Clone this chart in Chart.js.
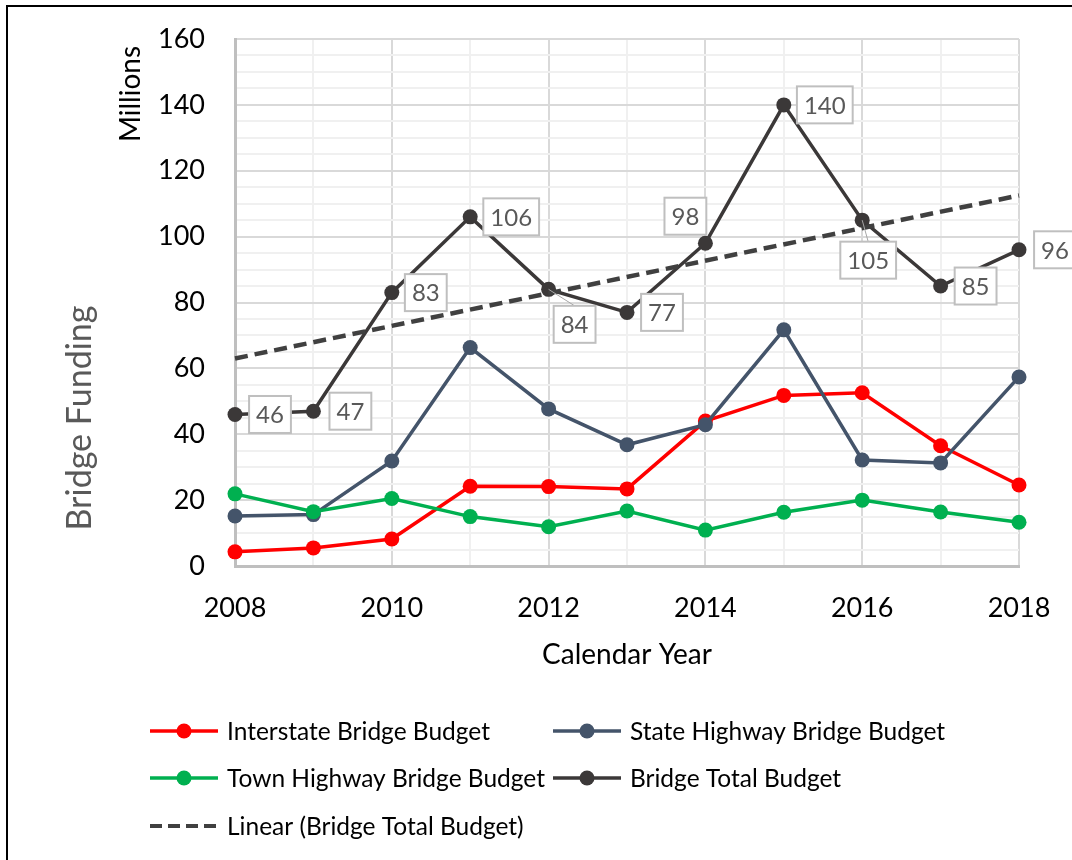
<!DOCTYPE html>
<html>
<head>
<meta charset="utf-8">
<title>Bridge Funding</title>
<script src="https://cdn.jsdelivr.net/npm/chart.js@4.4.1/dist/chart.umd.min.js"></script>
<style>
    html, body { margin: 0; padding: 0; background: #fff; }
    #wrap { width: 1072px; height: 860px; position: relative; }
</style>
</head>
<body>
<div id="wrap"><canvas id="bridgeChart"></canvas></div>
<script>
// values (millions)
const years = [2008, 2009, 2010, 2011, 2012, 2013, 2014, 2015, 2016, 2017, 2018];
const interstateBudget = [4.3, 5.5, 8.2, 24.2, 24.1, 23.4, 44.0, 51.8, 52.6, 36.5, 24.6];
const stateHighwayBudget = [15.2, 15.6, 31.9, 66.3, 47.7, 36.8, 42.9, 71.7, 32.2, 31.3, 57.4];
const townHighwayBudget = [21.9, 16.5, 20.5, 15.0, 11.9, 16.7, 10.9, 16.3, 20.0, 16.4, 13.3];
const totalBudget = [46, 47, 83, 106, 84, 77, 98, 140, 105, 85, 96];
const trendYears = [2008, 2018];
const trendValues = [63, 112.5];
const yTickLabels = [0, 20, 40, 60, 80, 100, 120, 140, 160];
const xTickLabels = [2008, 2010, 2012, 2014, 2016, 2018];

const FONT = 'Lato, "Open Sans", sans-serif';

// where each total label box sits relative to its point (dx, dy, leader line)
const labelPlacement = [
    [35, 0], [37, 0], [34, 0], [41, 0], [26, 35, true], [35, 0],
    [-20, -27], [41, 0], [6, 40, true], [35, 0], [36, 0]
];

const toPoints = (xs, ys) => xs.map((x, i) => ({ x: x, y: ys[i] }));

const totalLabels = {
    id: 'totalLabels',
    afterDatasetsDraw(chart) {
        const ctx = chart.ctx;
        const meta = chart.getDatasetMeta(3);
        ctx.save();
        ctx.font = '24px ' + FONT;
        ctx.textAlign = 'center';
        ctx.textBaseline = 'middle';
        meta.data.forEach((pt, i) => {
            const p = labelPlacement[i];
            const text = String(Math.round(totalBudget[i]));
            const w = ctx.measureText(text).width + 14;
            const h = 37;
            const cx = pt.x + p[0];
            const cy = pt.y + p[1];
            if (p[2]) {
                ctx.strokeStyle = '#a6a6a6';
                ctx.lineWidth = 1;
                ctx.beginPath();
                ctx.moveTo(pt.x, pt.y);
                ctx.lineTo(cx, cy - h / 2);
                ctx.stroke();
            }
            ctx.fillStyle = '#fff';
            ctx.fillRect(cx - w / 2, cy - h / 2, w, h);
            ctx.strokeStyle = '#bfbfbf';
            ctx.lineWidth = 2;
            ctx.strokeRect(cx - w / 2, cy - h / 2, w, h);
            ctx.fillStyle = '#595959';
            ctx.fillText(text, cx, cy + 1);
        });
        ctx.restore();
    }
};

function legendItem(ctx, x, y, color, text, dashed) {
    ctx.save();
    ctx.strokeStyle = color;
    ctx.lineWidth = dashed ? 4 : 3.5;
    if (dashed) ctx.setLineDash([12, 6]);
    ctx.beginPath();
    ctx.moveTo(x, y);
    ctx.lineTo(x + 68, y);
    ctx.stroke();
    ctx.setLineDash([]);
    if (!dashed) {
        ctx.fillStyle = color;
        ctx.beginPath();
        ctx.arc(x + 34, y, 7.5, 0, Math.PI * 2);
        ctx.fill();
    }
    ctx.fillStyle = '#000';
    ctx.font = '24.5px ' + FONT;
    ctx.textAlign = 'left';
    ctx.textBaseline = 'middle';
    ctx.fillText(text, x + 77, y + 1);
    ctx.restore();
}

const decorations = {
    id: 'decorations',
    afterDraw(chart) {
        const ctx = chart.ctx;
        ctx.save();
        // outer frame
        ctx.fillStyle = '#000';
        ctx.fillRect(6, 5, 2, 860);
        ctx.fillRect(6, 5, 1072, 2);

        ctx.textAlign = 'center';
        ctx.textBaseline = 'middle';

        ctx.save();
        ctx.translate(131, 94);
        ctx.rotate(-Math.PI / 2);
        ctx.font = '28px ' + FONT;
        ctx.fillStyle = '#000';
        ctx.fillText('Millions', 0, 0);
        ctx.restore();

        ctx.save();
        ctx.translate(80, 418);
        ctx.rotate(-Math.PI / 2);
        ctx.font = '34px ' + FONT;
        ctx.fillStyle = '#595959';
        ctx.fillText('Bridge Funding', 0, 0);
        ctx.restore();

        ctx.font = '28px ' + FONT;
        ctx.fillStyle = '#000';
        ctx.fillText('Calendar Year', 627, 655);
        ctx.restore();

        legendItem(ctx, 150, 731, '#ff0000', 'Interstate Bridge Budget');
        legendItem(ctx, 553, 731, '#44546a', 'State Highway Bridge Budget');
        legendItem(ctx, 150, 778, '#00b050', 'Town Highway Bridge Budget');
        legendItem(ctx, 553, 778, '#3b3838', 'Bridge Total Budget');
        legendItem(ctx, 150, 826, '#404040', 'Linear (Bridge Total Budget)', true);
    }
};

function series(label, values, color, order) {
    return {
        label: label,
        data: toPoints(years, values),
        borderColor: color,
        backgroundColor: color,
        borderWidth: 3.5,
        pointRadius: 7.5,
        pointBorderWidth: 0,
        pointHoverRadius: 7.5,
        clip: false,
        order: order
    };
}

// keep tick padding from pushing the plot area around
function noOverflow(s) {
    s.paddingTop = 0;
    s.paddingBottom = 0;
    s.paddingLeft = 0;
    s.paddingRight = 0;
}

const ctx = document.getElementById('bridgeChart').getContext('2d');
new Chart(ctx, {
    type: 'line',
    data: {
        datasets: [
            series('Interstate Bridge Budget', interstateBudget, '#ff0000', 4),
            series('State Highway Bridge Budget', stateHighwayBudget, '#44546a', 3),
            series('Town Highway Bridge Budget', townHighwayBudget, '#00b050', 2),
            series('Bridge Total Budget', totalBudget, '#3b3838', 1),
            {
                label: 'Linear (Bridge Total Budget)',
                data: toPoints(trendYears, trendValues),
                borderColor: '#404040',
                borderWidth: 4.5,
                borderDash: [13, 7],
                pointRadius: 0,
                clip: false,
                order: 0
            }
        ]
    },
    options: {
        responsive: true,
        maintainAspectRatio: false,
        animation: false,
        layout: { padding: { top: 39, left: 0, right: 53, bottom: 0 } },
        plugins: {
            legend: { display: false },
            tooltip: { enabled: false }
        },
        scales: {
            x: {
                type: 'linear',
                min: 2008,
                max: 2018,
                afterFit: s => { s.height = 294; noOverflow(s); },
                border: { color: '#bfbfbf', width: 3 },
                grid: {
                    drawTicks: false,
                    lineWidth: 2,
                    color: c => xTickLabels.includes(c.tick.value) ? '#d9d9d9' : '#f0f0f0'
                },
                ticks: {
                    stepSize: 1,
                    autoSkip: false,
                    maxRotation: 0,
                    padding: 26,
                    color: '#000',
                    font: { family: FONT, size: 27 },
                    callback: v => xTickLabels.includes(v) ? String(v) : ''
                }
            },
            y: {
                min: 0,
                max: 160,
                afterFit: s => { s.width = 235; noOverflow(s); },
                border: { color: '#bfbfbf', width: 3 },
                grid: {
                    drawTicks: false,
                    lineWidth: 2,
                    color: c => yTickLabels.includes(c.tick.value) ? '#d9d9d9' : '#f0f0f0'
                },
                ticks: {
                    stepSize: 5,
                    autoSkip: false,
                    padding: 30,
                    color: '#000',
                    font: { family: FONT, size: 27 },
                    callback: v => yTickLabels.includes(v) ? String(v) : ''
                }
            }
        }
    },
    plugins: [totalLabels, decorations]
});
</script>
</body>
</html>
